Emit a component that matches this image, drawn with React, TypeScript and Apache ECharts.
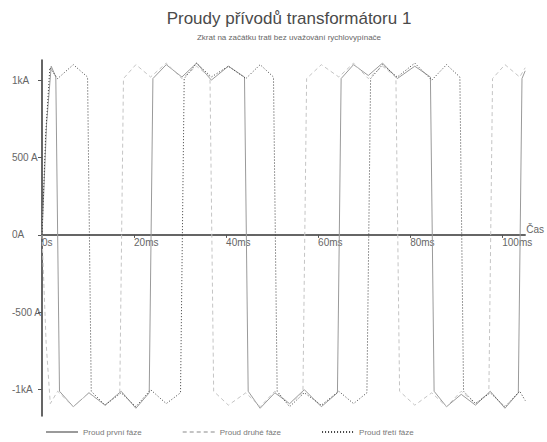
import React, { useEffect, useRef } from "react";
import * as echarts from "echarts";

const titleText = "Proudy přívodů transformátoru 1";
const subText = "Zkrat na začátku trati bez uvažování rychlovypínače";
const seriesNames = ["Proud první fáze", "Proud druhé fáze", "Proud třetí fáze"];
const xTicks = [0, 20, 40, 60, 80, 100];
const xTickLabels = ["0s", "20ms", "40ms", "60ms", "80ms", "100ms"];
const yTicks = [-1000, -500, 0, 500, 1000];
const yTickLabels = ["-1kA", "-500 A", "0A", "500 A", "1kA"];

// [time ms, current A]
const phase1 = [
  [0, 0], [1.0, 720], [2.0, 1090], [3.0, 1020], [3.8, -1010], [6.8, -1110], [10.2, -1020],
  [13.7, -1100], [17.2, -1010], [20.4, -1120], [23.3, -1020], [24.1, 1010], [27.0, 1100],
  [30.4, 1020], [33.6, 1110], [36.8, 1000], [40.5, 1090], [44.0, 1020], [44.8, -1010],
  [47.4, -1120], [50.6, -1020], [53.8, -1090], [57.0, -1000], [60.7, -1110], [64.2, -1020],
  [65.0, 1010], [67.7, 1100], [70.9, 1030], [74.0, 1110], [77.2, 1010], [81.0, 1090],
  [84.4, 1020], [85.2, -1010], [87.9, -1110], [91.1, -1030], [94.2, -1100], [97.4, -1010],
  [100.6, -1120], [103.5, -1020], [104.3, 1010], [105, 1060],
];
const phase2 = [
  [0, 0], [0.9, -700], [1.8, -1090], [3.4, -1010], [6.8, -1110], [10.2, -1020], [13.7, -1100],
  [16.9, -1020], [17.7, 1010], [20.4, 1100], [23.6, 1020], [27.0, 1110], [30.4, 1010],
  [33.6, 1090], [36.5, 1020], [37.3, -1010], [40.5, -1100], [44.3, -1020], [47.4, -1110],
  [50.6, -1010], [53.8, -1090], [56.7, -1020], [57.5, 1010], [60.7, 1100], [64.5, 1020],
  [67.7, 1110], [70.9, 1010], [74.0, 1090], [76.9, 1020], [77.7, -1010], [81.0, -1100],
  [84.7, -1020], [87.9, -1110], [91.1, -1010], [94.2, -1090], [97.1, -1020], [97.9, 1010],
  [100.6, 1100], [103.8, 1020], [105, 1080],
];
const phase3 = [
  [0, 0], [0.8, 650], [1.7, 1080], [3.4, 1010], [6.8, 1100], [9.9, 1020], [10.7, -1010],
  [13.7, -1100], [17.2, -1020], [20.4, -1110], [23.6, -1000], [27.0, -1090], [30.1, -1020],
  [30.9, 1010], [33.6, 1110], [36.8, 1020], [40.5, 1090], [44.3, 1010], [47.4, 1100],
  [50.3, 1020], [51.1, -1010], [53.8, -1110], [57.0, -1020], [60.7, -1100], [64.5, -1010],
  [67.7, -1090], [70.6, -1020], [71.4, 1010], [74.0, 1100], [77.2, 1020], [81.0, 1110],
  [84.7, 1000], [87.9, 1100], [90.8, 1020], [91.6, -1010], [94.2, -1090], [97.4, -1020],
  [100.6, -1110], [103.8, -1010], [105, -1070],
];

const FONT = "'Liberation Sans', Arial, sans-serif";
const Y_MIN = -1170;
const Y_MAX = 1130;
const GRID_TOP = 60;
const GRID_BOTTOM = 26;
const H = 442;

export default function App() {
  const ref = useRef<HTMLDivElement>(null);
  useEffect(() => {
    if (!ref.current) return;
    const chart = echarts.init(ref.current, undefined, { renderer: "svg" });
    const lineStyles = [
      { color: "#9a9a9a", width: 1, type: "solid" as const },
      { color: "#c4c4c4", width: 1, type: [4, 3] as any },
      { color: "#3c3c3c", width: 1, type: [1, 2] as any },
    ];
    const datas = [phase1, phase2, phase3];
    const plotH = H - GRID_TOP - GRID_BOTTOM;
    const zeroFromBottom = ((0 - Y_MIN) / (Y_MAX - Y_MIN)) * plotH;
    chart.setOption({
      animation: false,
      backgroundColor: "#ffffff",
      textStyle: { fontFamily: FONT },
      title: {
        text: titleText,
        subtext: subText,
        left: 284,
        textAlign: "center",
        top: 5,
        itemGap: 6,
        textStyle: { fontSize: 17, fontWeight: "normal", color: "#4a4a4a", fontFamily: FONT },
        subtextStyle: { fontSize: 8, color: "#666", fontFamily: FONT },
      },
      legend: {
        left: 40,
        top: 423,
        itemGap: 40,
        itemWidth: 32,
        itemHeight: 8,
        itemStyle: { opacity: 0 },
        textStyle: { fontSize: 8, color: "#777", fontFamily: FONT },
        data: seriesNames,
      },
      grid: { left: 42, right: 12, top: GRID_TOP, bottom: GRID_BOTTOM, containLabel: false },
      xAxis: {
        type: "value",
        min: 0,
        max: 105,
        offset: -zeroFromBottom,
        name: "Čas",
        nameLocation: "end",
        nameGap: 1,
        nameTextStyle: { fontSize: 10, color: "#666", verticalAlign: "bottom", align: "left", fontFamily: FONT },
        axisLine: { onZero: false, lineStyle: { color: "#333", width: 1.5 } },
        axisTick: { show: true, length: 3, customValues: xTicks, lineStyle: { color: "#555" } },
        splitLine: { show: false },
        axisLabel: {
          customValues: xTicks,
          align: "left",
          margin: 3,
          fontSize: 10,
          color: "#666",
          fontFamily: FONT,
          formatter: (v: number) => xTickLabels[xTicks.indexOf(v)] ?? "",
        },
      },
      yAxis: {
        type: "value",
        min: Y_MIN,
        max: Y_MAX,
        axisLine: { show: true, lineStyle: { color: "#333", width: 1.5 } },
        axisTick: { show: true, length: 4, customValues: yTicks, lineStyle: { color: "#555" } },
        splitLine: { show: false },
        axisLabel: {
          customValues: yTicks,
          align: "left",
          margin: 30,
          fontSize: 10,
          color: "#666",
          fontFamily: FONT,
          formatter: (v: number) => yTickLabels[yTicks.indexOf(v)] ?? "",
        },
      },
      series: datas.map((d, i) => ({
        name: seriesNames[i],
        type: "line",
        data: d,
        symbol: "none",
        showSymbol: false,
        smooth: false,
        lineStyle: lineStyles[i],
        itemStyle: { color: lineStyles[i].color },
      })),
    });
    return () => chart.dispose();
  }, []);
  return (
    <div
      ref={ref}
      style={{ position: "fixed", left: 0, top: 0, width: 547, height: 442, background: "#fff" }}
    />
  );
}
